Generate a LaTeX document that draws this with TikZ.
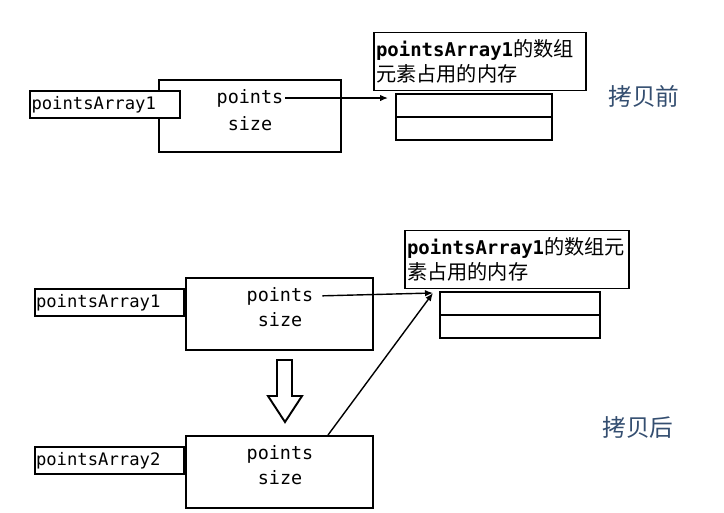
\documentclass[tikz,border=0pt]{standalone}
\usepackage{fontspec}
\setmonofont{DejaVu Sans Mono}
\newfontfamily\cjk{Noto Sans CJK SC}
\usepackage{xcolor}
\usetikzlibrary{positioning, arrows.meta}
\definecolor{notecol}{RGB}{52,78,112}

\begin{document}
\begin{tikzpicture}[x=0.02cm, y=-0.02cm, >={Latex[length=1.6mm,width=1.3mm]},
    box/.style={draw, line width=1.1pt, fill=white, inner sep=0pt},
    namebox/.style={box, font=\ttfamily\fontsize{9.8}{11}\selectfont, text width=2.94cm, inner xsep=0.8pt, minimum height=0.54cm, align=left},
    objbox/.style={box, minimum height=1.44cm},
    field/.style={font=\ttfamily\fontsize{10.5}{12}\selectfont, inner sep=1pt},
    membox/.style={box, font=\fontsize{11.5}{14}\selectfont, align=left, inner xsep=1pt, minimum height=1.16cm},
    cell/.style={box, minimum height=0.46cm},
    note/.style={font=\cjk\fontsize{13.5}{16}\selectfont, text=notecol},
    link/.style={->, line width=0.8pt}]
    \useasboundingbox (0,0) rectangle (724,512);

    % Trước khi sao chép
    \node[objbox, minimum width=3.64cm] (obj1) at (250,116) {};
    \node[field] (pts1) at (250,98) {points};
    \node[field] (size1) at (250,124) {size};
    \node[namebox] (name1) at (105,104.5) {pointsArray1};
    \node[membox, text width=4.16cm] (mem1) at (480,61.5)
        {{\ttfamily\bfseries\fontsize{10.8}{14}\selectfont pointsArray1}{\cjk 的数组}\\{\cjk 元素占用的内存}};
    \node[cell, minimum width=3.12cm] (c11) at (474,105.5) {};
    \node[cell, minimum width=3.12cm, below=-1.1pt of c11] (c12) {};
    \draw[link, shorten >=4pt] (pts1.east) -- (pts1 -| c11.west);
    \node[note] (before) at (644,96) {拷贝前};

    % Sau khi sao chép
    \node[objbox, minimum width=3.74cm] (obj2) at (279.5,314) {};
    \node[field] (pts2) at (280,296) {points};
    \node[field] (size2) at (280,320) {size};
    \node[namebox] (name2) at (109.5,302.5) {pointsArray1};
    \node[membox, text width=4.4cm] (mem2) at (517,259.5)
        {{\ttfamily\bfseries\fontsize{10.8}{14}\selectfont pointsArray1}{\cjk 的数组元}\\{\cjk 素占用的内存}};
    \node[cell, minimum width=3.2cm] (c21) at (520,303.5) {};
    \node[cell, minimum width=3.2cm, below=-1.1pt of c21] (c22) {};
    \coordinate (tip2) at (433,293);
    \draw[link, shorten <=4pt] (pts2.east) -- (tip2);

    % Mũi tên rỗng
    \draw[line width=1.1pt, fill=white] (277,360) -- (292,360) -- (292,396) -- (302,396)
        -- (285,422) -- (268,396) -- (277,396) -- cycle;

    \node[objbox, minimum width=3.74cm] (obj3) at (279.5,472) {};
    \node[field] (pts3) at (280,454) {points};
    \node[field] (size3) at (280,478) {size};
    \node[namebox] (name3) at (109.5,460.5) {pointsArray2};
    \draw[link] ([xshift=0.97cm]obj3.north) -- (tip2);
    \node[note] (after) at (638,427) {拷贝后};
\end{tikzpicture}
\end{document}
